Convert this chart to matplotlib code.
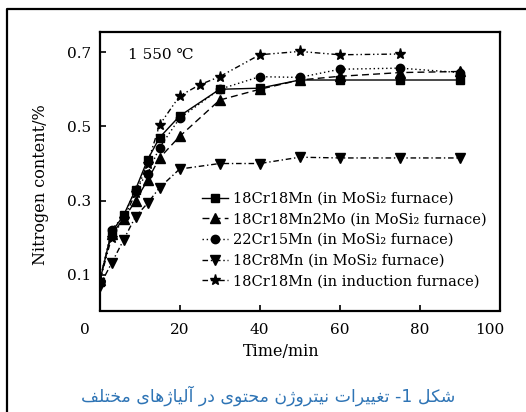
import matplotlib
matplotlib.use("Agg")
import matplotlib.pyplot as plt
from matplotlib.lines import Line2D
from matplotlib.transforms import ScaledTranslation

# ---------------- data ----------------
x_main = [0, 3, 6, 9, 12, 15, 20, 30, 40, 50, 60, 75, 90]
y_18cr18mn = [0.08, 0.215, 0.26, 0.33, 0.41, 0.47, 0.528, 0.60, 0.603, 0.625, 0.625, 0.625, 0.625]
y_18cr18mn2mo = [0.085, 0.21, 0.25, 0.30, 0.355, 0.415, 0.473, 0.571, 0.60, 0.625, 0.635, 0.645, 0.648]
y_22cr15mn = [0.08, 0.222, 0.257, 0.33, 0.373, 0.443, 0.522, 0.60, 0.634, 0.632, 0.654, 0.657, 0.645]
y_18cr8mn = [0.07, 0.131, 0.194, 0.257, 0.293, 0.335, 0.385, 0.40, 0.40, 0.417, 0.415, 0.415, 0.415]
x_induction = [0, 3, 6, 9, 12, 15, 20, 25, 30, 40, 50, 60, 75]
y_induction = [0.08, 0.20, 0.25, 0.32, 0.40, 0.504, 0.582, 0.612, 0.634, 0.693, 0.702, 0.693, 0.695]

labels = [
    "18Cr18Mn (in MoSi\u2082 furnace)",
    "18Cr18Mn2Mo (in MoSi\u2082 furnace)",
    "22Cr15Mn (in MoSi\u2082 furnace)",
    "18Cr8Mn (in MoSi\u2082 furnace)",
    "18Cr18Mn (in induction furnace)",
]
x_ticks = [0, 20, 40, 60, 80, 100]
y_ticks = [0.1, 0.3, 0.5, 0.7]
x_label = "Time/min"
y_label = "Nitrogen content/%"
temp_text = "1 550 \u2103"
caption = "شکل 1- تغییرات نیتروژن محتوی در آلیاژهای مختلف"

# ------------- simple Persian shaping for display -------------
FORMS = {
    '\u0627': ('\ufe8d', '\ufe8e', None, None),
    '\u0622': ('\ufe81', '\ufe82', None, None),
    '\u062a': ('\ufe95', '\ufe96', '\ufe97', '\ufe98'),
    '\u062d': ('\ufea1', '\ufea2', '\ufea3', '\ufea4'),
    '\u062e': ('\ufea5', '\ufea6', '\ufea7', '\ufea8'),
    '\u062f': ('\ufea9', '\ufeaa', None, None),
    '\u0631': ('\ufead', '\ufeae', None, None),
    '\u0632': ('\ufeaf', '\ufeb0', None, None),
    '\u0698': ('\ufb8a', '\ufb8b', None, None),
    '\u0634': ('\ufeb5', '\ufeb6', '\ufeb7', '\ufeb8'),
    '\u063a': ('\ufecd', '\ufece', '\ufecf', '\ufed0'),
    '\u0641': ('\ufed1', '\ufed2', '\ufed3', '\ufed4'),
    '\u06a9': ('\ufb8e', '\ufb8f', '\ufb90', '\ufb91'),
    '\u0644': ('\ufedd', '\ufede', '\ufedf', '\ufee0'),
    '\u0645': ('\ufee1', '\ufee2', '\ufee3', '\ufee4'),
    '\u0646': ('\ufee5', '\ufee6', '\ufee7', '\ufee8'),
    '\u0647': ('\ufee9', '\ufeea', '\ufeeb', '\ufeec'),
    '\u0648': ('\ufeed', '\ufeee', None, None),
    '\u06cc': ('\ufbfc', '\ufbfd', '\ufbfe', '\ufbff'),
}


def shape_rtl(text):
    out = []
    for i, ch in enumerate(text):
        if ch not in FORMS:
            out.append(ch)
            continue
        prev = text[i - 1] if i > 0 else ''
        nxt = text[i + 1] if i + 1 < len(text) else ''
        jp = prev in FORMS and FORMS[prev][2] is not None
        jn = FORMS[ch][2] is not None and nxt in FORMS
        iso, fin, ini, med = FORMS[ch]
        if jp and jn:
            out.append(med)
        elif jp:
            out.append(fin)
        elif jn:
            out.append(ini)
        else:
            out.append(iso)
    return ''.join(reversed(out))


# ---------------- figure ----------------
plt.rcParams['font.family'] = ['DejaVu Serif', 'DejaVu Sans']
W, H = 526, 412
fig = plt.figure(figsize=(W / 100, H / 100), dpi=100)
ax = fig.add_axes([99.5 / W, 101.5 / H, 400.5 / W, 278 / H])

styles = [
    dict(marker='s', ls='-', ms=6),
    dict(marker='^', ls=(0, (5, 3)), ms=6.5),
    dict(marker='o', ls=(0, (1, 2)), ms=6),
    dict(marker='v', ls=(0, (4, 2, 1, 2)), ms=6.5),
    dict(marker='*', ls=(0, (4, 2, 1, 2, 1, 2)), ms=8),
]
series = [
    (x_main, y_18cr18mn),
    (x_main, y_18cr18mn2mo),
    (x_main, y_22cr15mn),
    (x_main, y_18cr8mn),
    (x_induction, y_induction),
]
handles = []
for (xs, ys), st, lab in zip(series, styles, labels):
    h, = ax.plot(xs, ys, color='black', lw=1.0, mfc='black', mec='black',
                 label=lab, **st)
    handles.append(h)

ax.set_xlim(0, 100)
ax.set_ylim(0.004, 0.753)
ax.set_xticks(x_ticks)
ax.set_xticklabels([str(v) for v in x_ticks])
ax.set_yticks(y_ticks)
ax.set_yticklabels([f"{v:.1f}" for v in y_ticks])
ax.tick_params(axis='both', direction='in', length=4, width=1.2, labelsize=11)
ax.tick_params(axis='x', pad=9)
ax.tick_params(axis='y', pad=6)
for sp in ax.spines.values():
    sp.set_linewidth(1.6)

# shift end x tick labels like the reference
xt = ax.get_xticklabels()
xt[0].set_transform(xt[0].get_transform() + ScaledTranslation(-14.5 / 100, 0, fig.dpi_scale_trans))
xt[-1].set_transform(xt[-1].get_transform() + ScaledTranslation(-10 / 100, 0, fig.dpi_scale_trans))

fig.text(281 / W, 1 - 351 / H, x_label, ha='center', va='center', fontsize=11.5)
fig.text(41 / W, 1 - 185 / H, y_label, ha='center', va='center', rotation=90, fontsize=11.5)
fig.text(161 / W, 1 - 55 / H, temp_text, ha='center', va='center', fontsize=11)

leg = ax.legend(handles=handles, loc='upper left',
                bbox_to_anchor=(202 / W, 1 - 192 / H), bbox_transform=fig.transFigure,
                frameon=False, fontsize=10.5, handlelength=1.8, handletextpad=0.3,
                labelspacing=0.45, borderpad=0, borderaxespad=0)

fig.text(268 / W, 1 - 396 / H, shape_rtl(caption), ha='center', va='center',
         fontsize=12.5, color='#2e74b5', family=['DejaVu Sans'])

# outer page border (left and top)
fig.add_artist(Line2D([6.5 / W, 6.5 / W, 1.01], [-0.01, 1 - 8.5 / H, 1 - 8.5 / H],
                      transform=fig.transFigure, color='black', lw=1.6))

fig.savefig('out.png', dpi=100)
